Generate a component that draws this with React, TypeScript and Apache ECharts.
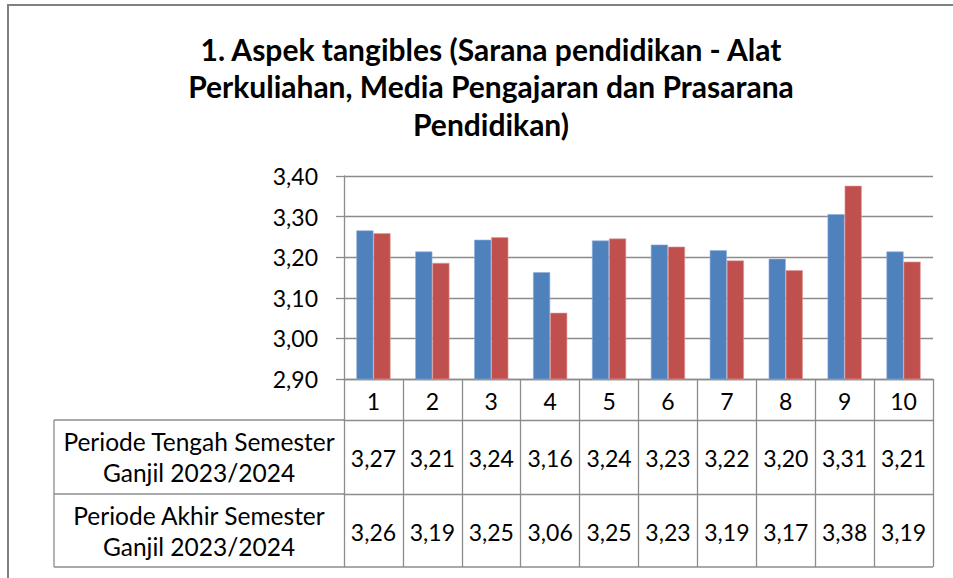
import React, { useEffect, useRef } from "react";
import * as echarts from "echarts";

const titleText =
  "1. Aspek tangibles (Sarana pendidikan - Alat\nPerkuliahan, Media Pengajaran dan Prasarana\nPendidikan)";
const categories = ["1", "2", "3", "4", "5", "6", "7", "8", "9", "10"];
const seriesNames = [
  "Periode Tengah Semester\nGanjil 2023/2024",
  "Periode Akhir Semester\nGanjil 2023/2024",
];
const tengah = [3.266, 3.214, 3.243, 3.163, 3.241, 3.231, 3.217, 3.196, 3.306, 3.214];
const akhir = [3.259, 3.186, 3.249, 3.063, 3.246, 3.226, 3.192, 3.168, 3.376, 3.189];
const yMin = 2.9;
const yMax = 3.4;
const yStep = 0.1;

const FONT = "Lato, 'Open Sans', sans-serif";
const LINE = "#8c8c8c";
const NUM_SIZE = 23;
const fmt = (v: number) => v.toFixed(2).replace(".", ",");

export default function App() {
  const ref = useRef<HTMLDivElement>(null);
  useEffect(() => {
    if (!ref.current) return;
    const chart = echarts.init(ref.current, undefined, { renderer: "svg" });
    const gridLeft = 344;
    const gridTop = 176;
    const gridW = 589;
    const gridH = 203;
    const axisY = gridTop + gridH;
    const row0 = 41;
    const row1 = 74;
    const row2 = 73;
    const tableLeft = 54;
    const y1 = axisY + row0;
    const y2 = y1 + row1;
    const y3 = y2 + row2;
    const lineStyle = { color: LINE, width: 1.3 };

    const tableAxis = (data: string[], offset: number, h: number) => ({
      type: "category" as const,
      data,
      gridIndex: 0,
      position: "bottom" as const,
      offset,
      axisLine: { show: true, lineStyle },
      axisTick: { show: true, length: h, interval: 0, lineStyle },
      axisLabel: {
        interval: 0,
        margin: h / 2 + 1,
        verticalAlign: "middle" as const,
        fontSize: NUM_SIZE,
        fontFamily: FONT,
        color: "#000",
      },
      splitLine: { show: false },
    });

    chart.setOption({
      animation: false,
      backgroundColor: "#fff",
      title: {
        text: titleText,
        left: 486,
        top: 25,
        textAlign: "center",
        textStyle: {
          fontSize: 30,
          fontWeight: "bold",
          fontFamily: FONT,
          color: "#000",
          lineHeight: 37.5,
        },
      },
      grid: { left: gridLeft, top: gridTop, width: gridW, height: gridH, containLabel: false },
      xAxis: [
        {
          type: "category",
          data: categories,
          position: "bottom",
          axisLine: { show: true, lineStyle },
          axisTick: { show: true, length: row0, interval: 0, lineStyle },
          axisLabel: {
            interval: 0,
            margin: 22,
            verticalAlign: "middle",
            fontSize: NUM_SIZE,
            fontFamily: FONT,
            color: "#000",
          },
        },
        tableAxis(tengah.map(fmt), row0, row1),
        tableAxis(akhir.map(fmt), row0 + row1, row2),
      ],
      yAxis: {
        type: "value",
        min: yMin,
        max: yMax,
        interval: yStep,
        axisLine: { show: true, lineStyle },
        axisTick: { show: true, length: 8, lineStyle },
        splitLine: { show: true, lineStyle },
        axisLabel: {
          margin: 26,
          fontSize: NUM_SIZE,
          fontFamily: FONT,
          color: "#000",
          formatter: (v: number) => fmt(v),
        },
      },
      series: [
        {
          name: seriesNames[0],
          type: "bar",
          data: tengah,
          barGap: "0%",
          barCategoryGap: "42%",
          itemStyle: { color: "#4F81BD", borderColor: "#8eaedb", borderWidth: 0.6 },
        },
        {
          name: seriesNames[1],
          type: "bar",
          data: akhir,
          barGap: "0%",
          barCategoryGap: "42%",
          itemStyle: { color: "#C0504D", borderColor: "#e09a98", borderWidth: 0.6 },
        },
      ],
      graphic: [
        {
          type: "rect",
          shape: { x: 8, y: 5, width: 1000, height: 700 },
          style: { fill: "none", stroke: "#808080", lineWidth: 2 },
          silent: true,
        },
        { type: "line", shape: { x1: tableLeft, y1, x2: gridLeft, y2: y1 }, style: { stroke: LINE, lineWidth: 1.3 } },
        { type: "line", shape: { x1: tableLeft, y1: y2, x2: gridLeft, y2 }, style: { stroke: LINE, lineWidth: 1.3 } },
        { type: "line", shape: { x1: tableLeft, y1: y3, x2: gridLeft + gridW, y2: y3 }, style: { stroke: LINE, lineWidth: 1.3 } },
        { type: "line", shape: { x1: tableLeft, y1, x2: tableLeft, y2: y3 }, style: { stroke: LINE, lineWidth: 1.3 } },
        {
          type: "text",
          x: (tableLeft + gridLeft) / 2,
          y: (y1 + y2) / 2,
          style: {
            text: seriesNames[0],
            align: "center",
            verticalAlign: "middle",
            fontSize: 24.5,
            fontFamily: FONT,
            lineHeight: 31,
            fill: "#000",
          },
        },
        {
          type: "text",
          x: (tableLeft + gridLeft) / 2,
          y: (y2 + y3) / 2,
          style: {
            text: seriesNames[1],
            align: "center",
            verticalAlign: "middle",
            fontSize: 24.5,
            fontFamily: FONT,
            lineHeight: 31,
            fill: "#000",
          },
        },
      ],
    });
    return () => chart.dispose();
  }, []);
  return (
    <div
      ref={ref}
      style={{ position: "fixed", left: 0, top: 0, width: 953, height: 578 }}
    />
  );
}
